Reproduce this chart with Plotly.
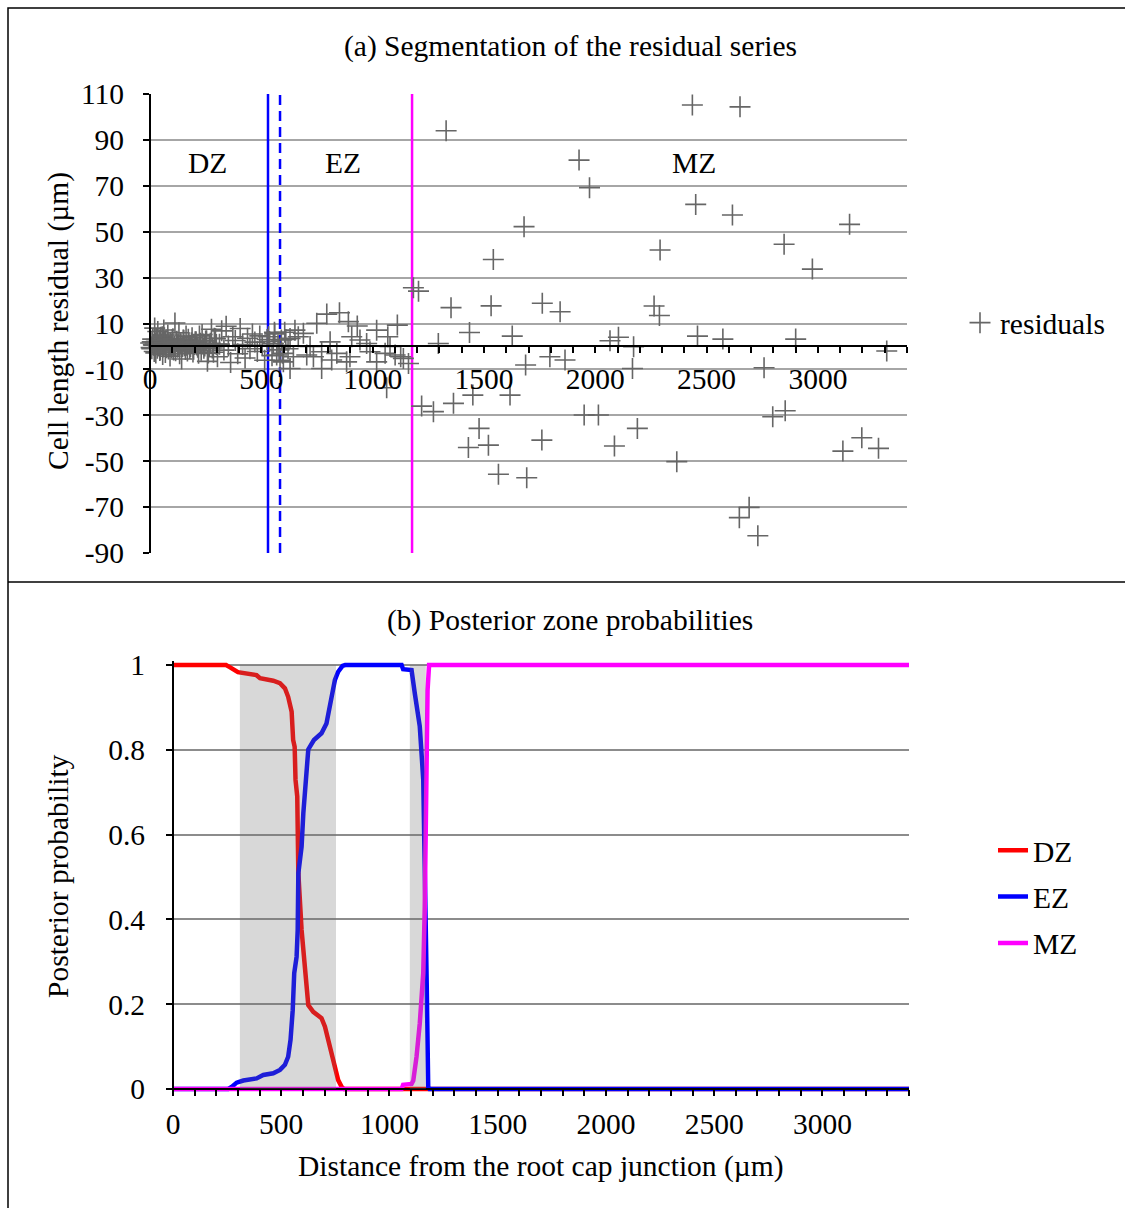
import plotly.graph_objects as go

# ---------------- data ----------------
# (a) residual series
dz_res_x = [3, 8, 12, 17, 21, 26, 30, 35, 39, 44, 48, 53, 57, 62, 66, 71, 75, 80, 85, 90,
            95, 100, 106, 112, 118, 124, 130, 136, 142, 149, 155, 162, 168, 175, 182, 189, 196, 203, 210, 218,
            226, 234, 242, 250, 258, 267, 276, 285, 294, 303, 312, 322, 332, 342, 352, 362, 372, 383, 394, 405,
            416, 427, 438, 449, 460, 471, 482, 493, 504, 515, 526, 537, 548, 559]
dz_res_y = [1.5, -1.0, 3.2, 0.5, 8.0, -2.8, 2.1, 6.5, 0.2, -1.8, 4.0, 1.1, -3.5, 7.2, 0.8, 2.5, -0.6, 5.0, 1.8, -4.2,
            0.9, 3.0, -1.5, 10.2, 2.2, -0.4, 6.0, 1.2, -5.5, 2.8, 0.3, 4.5, -2.0, 1.6, 0.0, 3.8, -1.2, 2.0, 0.6, -3.0,
            1.4, 5.2, -0.8, 2.4, -6.5, 0.4, 7.5, -2.5, 3.4, -4.5, 1.0, 6.8, -1.6, 8.8, 0.2, -7.0, 4.2, 2.6, -3.2, 7.8,
            0.8, -5.0, 3.6, -1.0, 5.4, 1.9, -2.2, 4.6, 0.5, -6.0, 3.0, 2.2, -4.0, 6.2]
dz_res_x2 = [5, 10, 15, 19, 24, 28, 33, 37, 42, 46, 51, 55, 60, 64, 69, 73, 78, 83, 88, 93,
             98, 103, 109, 115, 121, 127, 133, 139, 146, 152, 159, 165, 172, 179, 186, 193, 200, 207, 214, 222,
             230, 238, 246, 254, 262, 271, 280, 289, 298]
dz_res_y2 = [-0.5, 2.0, 0.8, -2.2, 1.5, 3.0, -0.8, 0.4, 2.6, -1.4, 0.9, 4.2, -0.2, 1.7, -2.6, 0.6, 2.9, -1.1, 0.3, 1.8,
             -0.6, 3.4, 0.1, -1.9, 2.3, 0.7, -3.2, 1.2, 0.0, 2.7, -1.3, 0.5, 3.1, -0.9, 1.6, -2.4, 0.8, 2.1, -0.3, 4.6,
             -1.7, 1.1, 0.2, 2.5, -2.9, 1.4, -0.7, 3.6, 0.9]
ez_res_x = [532, 554, 560, 569, 575, 580, 584, 590, 595, 599, 605, 610, 620, 629, 629, 644, 651, 666, 689, 704,
            719, 734, 749, 771, 771, 794, 809, 816, 839, 851, 883, 891, 898, 906, 931, 943, 973, 988, 1018, 1018,
            1056, 1063, 1068, 1078, 1101, 1111, 1126, 1138, 1161]
ez_res_y = [4.2, 1.3, 5.5, -3.7, 0.5, -1.5, -6.0, 2.8, -3.0, -6.7, 6.2, 3.0, -1.0, 3.5, -9.6, -4.5, 7.1, 4.2, 5.7, -3.7,
            0.0, -4.5, 10.1, -2.3, -9.6, 14.1, 2.0, -5.9, -3.0, 14.7, -6.7, 10.8, -4.5, 4.2, 8.9, 2.8, 1.3, -2.3, 7.1, -6.7,
            -3.0, -18.0, 4.2, 0.0, -3.7, 9.3, -4.5, -5.2, -7.4]
mz_res_x = [1183, 1206, 1220, 1273, 1295, 1330, 1352, 1363, 1430, 1435, 1450, 1478, 1520, 1532, 1542, 1565, 1617, 1627, 1680, 1687,
            1692, 1760, 1762, 1796, 1842, 1864, 1927, 1950, 1974, 2014, 2066, 2086, 2104, 2167, 2172, 2189, 2264, 2288, 2291, 2366,
            2436, 2451, 2459, 2573, 2616, 2647, 2650, 2691, 2730, 2758, 2797, 2848, 2853, 2900, 2975, 3112, 3142, 3197, 3272, 3309,
            3402]
mz_res_y = [25.6, 24.1, -26.0, -28.4, 1.3, 94.0, 16.9, -24.8, -44.0, 6.1, -21.2, -35.7, -43.0, 17.7, 37.9, -55.7, -21.2, 4.5, 52.2, -8.1,
            -57.2, -40.8, 18.8, -4.5, 15.1, -5.9, 81.2, -29.9, 69.2, -29.9, 2.5, -43.4, 4.0, -9.6, -0.1, -35.7, 17.6, 13.5, 42.0, -50.2,
            105.2, 61.9, 4.5, 3.2, 57.3, -74.6, 104.4, -70.1, -82.5, -9.3, -30.6, 44.5, -28.0, 3.2, 33.7, -45.6, 53.2, -39.8, -44.4, -2.0,
            42.3]

# y tick labels of panel (a)
res_ticks = [-90, -70, -50, -30, -10, 10, 30, 50, 70, 90, 110]
res_tick_text = ["-90", "-70", "-50", "-30", "-10", "10", "30", "50", "70", "90", "110"]

# zone boundaries (µm): DZ/EZ (solid), DZ/EZ alternative (dashed), EZ/MZ
bound_dz_ez = 530
bound_dz_ez_alt = 584
bound_ez_mz = 1177
zone_labels = ["DZ", "EZ", "MZ"]
zone_label_x = [256, 867, 2444]
zone_label_y = 80

# (b) posterior probabilities
dz_x = [0, 245, 262, 300, 386, 402, 463, 494, 517, 532, 548, 555, 562, 566, 574, 579, 594, 605, 617, 625,
        648, 686, 702, 717, 728, 748, 763, 779, 790, 3400]
dz_y = [1, 1, 0.995, 0.983, 0.976, 0.969, 0.963, 0.957, 0.945, 0.925, 0.89, 0.823, 0.807, 0.729, 0.69, 0.509, 0.375, 0.304, 0.249, 0.198,
        0.182, 0.167, 0.147, 0.116, 0.084, 0.045, 0.021, 0.005, 0, 0]
ez_x = [0, 255, 271, 294, 325, 386, 417, 463, 494, 517, 532, 543, 553, 560, 571, 576, 579, 594, 602, 613,
        625, 651, 686, 709, 725, 737, 748, 763, 783, 795, 1056, 1063, 1102, 1117, 1140, 1156, 1166, 1172, 1179, 1185,
        3400]
ez_y = [0, 0, 0.005, 0.015, 0.02, 0.025, 0.033, 0.037, 0.045, 0.057, 0.076, 0.116, 0.186, 0.273, 0.312, 0.375, 0.509, 0.571, 0.65, 0.729,
        0.801, 0.823, 0.839, 0.862, 0.902, 0.925, 0.965, 0.984, 0.998, 1, 1, 0.99, 0.988, 0.933, 0.855, 0.73, 0.5, 0.25, 0.005, 0,
        0]
mz_x = [0, 1056, 1063, 1102, 1110, 1125, 1140, 1156, 1163, 1171, 1176, 1183, 3400]
mz_y = [0, 0, 0.01, 0.012, 0.02, 0.076, 0.155, 0.273, 0.43, 0.745, 0.94, 1, 1]

# uncertainty bands for the boundaries
shade_bands = [(309, 753), (1094, 1168)]

# ---------------- layout helpers ----------------
W, H = 1125, 1208
FONT = "Liberation Serif"
FS = 29.5


def px(x):
    return x / W


def py(y):
    return 1 - y / H


# top panel geometry (pixels)
t_left, t_right, t_top, t_bot = 150, 907, 94, 553
t_ymin, t_ymax = -90, 110
t_zero_px = t_bot - (0 - t_ymin) * (t_bot - t_top) / (t_ymax - t_ymin)

# bottom panel geometry
b_left, b_right, b_top1, b_zero = 173, 909, 665, 1089
pad = 0.01
ppu = b_zero - b_top1
b_dom_bot = b_zero + pad * ppu
b_dom_top = b_top1 - pad * ppu

fig = go.Figure()

res_x = dz_res_x + dz_res_x2 + ez_res_x + mz_res_x
res_y = dz_res_y + dz_res_y2 + ez_res_y + mz_res_y
fig.add_trace(go.Scatter(
    x=res_x, y=res_y, mode="markers", name="residuals",
    marker=dict(symbol="cross-thin", size=15, color="#666666",
                line=dict(width=1.6, color="#666666")),
    cliponaxis=False, xaxis="x", yaxis="y", legend="legend"))

for name, xs, ys, col in [("DZ", dz_x, dz_y, "#ff0000"),
                          ("EZ", ez_x, ez_y, "#0000ff"),
                          ("MZ", mz_x, mz_y, "#ff00ff")]:
    fig.add_trace(go.Scatter(
        x=xs, y=ys, mode="lines", name=name, legendgroup=name,
        line=dict(color=col, width=4.5),
        xaxis="x2", yaxis="y2", legend="legend2"))

axis_common = dict(showline=True, linecolor="black", linewidth=2,
                   ticks="outside", ticklen=6, tickwidth=2, tickcolor="black",
                   zeroline=False, tickfont=dict(family=FONT, size=FS, color="black"))

fig.update_layout(
    width=W, height=H,
    margin=dict(l=0, r=0, t=0, b=0, pad=0, autoexpand=False),
    paper_bgcolor="white", plot_bgcolor="rgba(0,0,0,0)",
    font=dict(family=FONT, size=FS, color="black"),
    xaxis=dict(domain=[px(t_left), px(t_right)], range=[0, 3400],
               anchor="free", position=py(t_zero_px),
               tick0=0, dtick=500, showgrid=False, automargin=False,
               minor=dict(tick0=0, dtick=100, ticks="outside", ticklen=6, tickwidth=2, tickcolor="black"),
               **axis_common),
    yaxis=dict(domain=[py(t_bot), py(t_top)], range=[t_ymin, t_ymax],
               anchor="free", position=px(t_left), automargin=False,
               tickmode="array", tickvals=res_ticks, ticktext=res_tick_text,
               ticklabelstandoff=13,
               showgrid=True, gridcolor="#a6a6a6", gridwidth=2,
               **axis_common),
    xaxis2=dict(domain=[px(b_left), px(b_right)], range=[0, 3400],
                anchor="free", position=py(b_zero), automargin=False,
                tick0=0, dtick=500, showgrid=False, ticklabelstandoff=3,
                minor=dict(tick0=0, dtick=100, ticks="outside", ticklen=6, tickwidth=2, tickcolor="black"),
                **axis_common),
    yaxis2=dict(domain=[py(b_dom_bot), py(b_dom_top)], range=[-pad, 1 + pad],
                anchor="free", position=px(b_left), automargin=False,
                tick0=0, dtick=0.2, ticklabelstandoff=15,
                showgrid=True, gridcolor="#8c8c8c", gridwidth=2,
                **axis_common),
    legend=dict(x=px(960), y=py(323), xanchor="left", yanchor="middle",
                bgcolor="rgba(0,0,0,0)", font=dict(family=FONT, size=FS, color="black")),
    legend2=dict(x=px(993), y=py(897), xanchor="left", yanchor="middle", tracegroupgap=5,
                 bgcolor="rgba(0,0,0,0)", font=dict(family=FONT, size=FS, color="black")),
    showlegend=True,
)

ann = [
    dict(text="(a) Segmentation of the residual series", x=px(570), y=py(46)),
    dict(text="(b) Posterior zone probabilities", x=px(570), y=py(620)),
    dict(text="Cell length residual (µm)", x=px(58), y=py(321), textangle=-90),
    dict(text="Posterior probability", x=px(58), y=py(876), textangle=-90),
    dict(text="Distance from the root cap junction (µm)", x=px(541), y=py(1166)),
]
for a in ann:
    a.update(xref="paper", yref="paper", xanchor="center", yanchor="middle",
             showarrow=False, font=dict(family=FONT, size=FS, color="black"))
    fig.add_annotation(**a)

for lab, lx in zip(zone_labels, zone_label_x):
    fig.add_annotation(text=lab, x=lx, y=zone_label_y, xref="x", yref="y",
                       xanchor="center", yanchor="middle", showarrow=False,
                       font=dict(family=FONT, size=FS, color="black"))

# zone boundary lines in panel (a)
for bx, col, dash in [(bound_dz_ez, "#0000ff", "solid"),
                      (bound_dz_ez_alt, "#0000ff", "10px,6px"),
                      (bound_ez_mz, "#ff00ff", "solid")]:
    fig.add_shape(type="line", xref="x", yref="y", x0=bx, x1=bx, y0=t_ymin, y1=t_ymax,
                  line=dict(color=col, width=2.5, dash=dash), layer="between")

# shaded bands in panel (b)
for a0, a1 in shade_bands:
    fig.add_shape(type="rect", xref="x2", yref="y2", x0=a0, x1=a1, y0=0, y1=1,
                  fillcolor="rgb(110,110,110)", opacity=0.27, line=dict(width=0), layer="above")

# panel frames
fig.add_shape(type="rect", xref="paper", yref="paper", x0=px(8), x1=px(1140), y0=py(1225), y1=py(8),
              line=dict(color="black", width=1.5))
fig.add_shape(type="line", xref="paper", yref="paper", x0=px(8), x1=px(1140), y0=py(582), y1=py(582),
              line=dict(color="black", width=1.5))

fig.write_html("out.html")
